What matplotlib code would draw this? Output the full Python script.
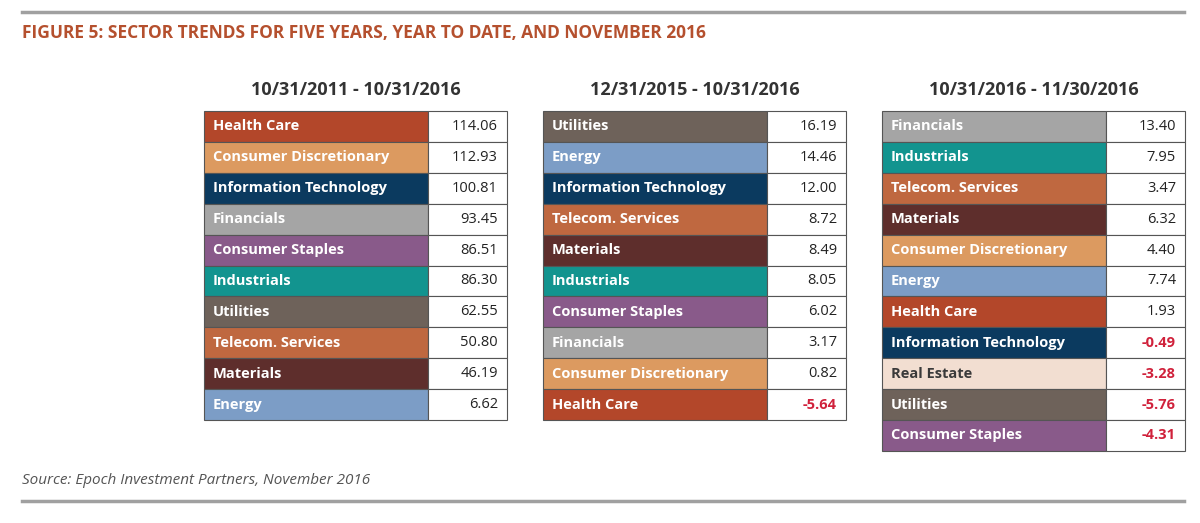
import matplotlib.pyplot as plt
from matplotlib.patches import Rectangle

COLORS = {
    "Health Care": "#B3472A",
    "Consumer Discretionary": "#DC9A60",
    "Information Technology": "#0B3A5F",
    "Financials": "#A5A5A5",
    "Consumer Staples": "#895A8A",
    "Industrials": "#12948F",
    "Utilities": "#6E625A",
    "Telecom. Services": "#BF6840",
    "Materials": "#5E2E2C",
    "Energy": "#7C9DC6",
    "Real Estate": "#F2DED1",
}

TITLES = ["10/31/2011 - 10/31/2016", "12/31/2015 - 10/31/2016", "10/31/2016 - 11/30/2016"]

SECTORS_1 = ["Health Care", "Consumer Discretionary", "Information Technology", "Financials",
             "Consumer Staples", "Industrials", "Utilities", "Telecom. Services", "Materials", "Energy"]
VALUES_1 = [114.06, 112.93, 100.81, 93.45, 86.51, 86.30, 62.55, 50.80, 46.19, 6.62]

SECTORS_2 = ["Utilities", "Energy", "Information Technology", "Telecom. Services", "Materials",
             "Industrials", "Consumer Staples", "Financials", "Consumer Discretionary", "Health Care"]
VALUES_2 = [16.19, 14.46, 12.00, 8.72, 8.49, 8.05, 6.02, 3.17, 0.82, -5.64]

SECTORS_3 = ["Financials", "Industrials", "Telecom. Services", "Materials", "Consumer Discretionary",
             "Energy", "Health Care", "Information Technology", "Real Estate", "Utilities",
             "Consumer Staples"]
VALUES_3 = [13.40, 7.95, 3.47, 6.32, 4.40, 7.74, 1.93, -0.49, -3.28, -5.76, -4.31]

fig = plt.figure(figsize=(12, 5.23), dpi=100)
ax = fig.add_axes([0, 0, 1, 1])
ax.set_xlim(0, 1200)
ax.set_ylim(523, 0)
ax.axis("off")

ax.plot([22, 1184], [12, 12], color="#A0A0A0", lw=2.5)
ax.plot([22, 1184], [501, 501], color="#A0A0A0", lw=2.5)
ax.text(22, 33, "FIGURE 5: SECTOR TRENDS FOR FIVE YEARS, YEAR TO DATE, AND NOVEMBER 2016",
        fontsize=12.5, fontweight="bold", color="#B5502E", va="center", family="Open Sans")
ax.text(22, 480, "Source: Epoch Investment Partners, November 2016", fontsize=11,
        style="italic", color="#555555", va="center", family="Open Sans")

panels = [(204, SECTORS_1, VALUES_1), (543, SECTORS_2, VALUES_2), (882, SECTORS_3, VALUES_3)]
row_h = 30.9
label_w, val_w = 224, 79
top = 111
for (x0, sectors, values), title in zip(panels, TITLES):
    ax.text(x0 + (label_w + val_w) / 2, 90, title, ha="center", va="center",
            fontsize=13, fontweight="bold", color="#333333", family="Open Sans")
    for i, (s, v) in enumerate(zip(sectors, values)):
        y = top + i * row_h
        ax.add_patch(Rectangle((x0, y), label_w, row_h, facecolor=COLORS[s],
                               edgecolor="#555555", lw=0.8))
        ax.add_patch(Rectangle((x0 + label_w, y), val_w, row_h, facecolor="white",
                               edgecolor="#555555", lw=0.8))
        tc = "#3A3A3A" if s == "Real Estate" else "white"
        ax.text(x0 + 9, y + row_h / 2, s, va="center", fontsize=10.5, fontweight="bold",
                color=tc, family="Open Sans")
        vc = "#D0213B" if v < 0 else "#222222"
        ax.text(x0 + label_w + val_w - 9, y + row_h / 2, f"{v:.2f}", va="center", ha="right",
                fontsize=10.5, fontweight="bold" if v < 0 else "normal", color=vc,
                family="Open Sans")

fig.savefig("out.png", dpi=100)
